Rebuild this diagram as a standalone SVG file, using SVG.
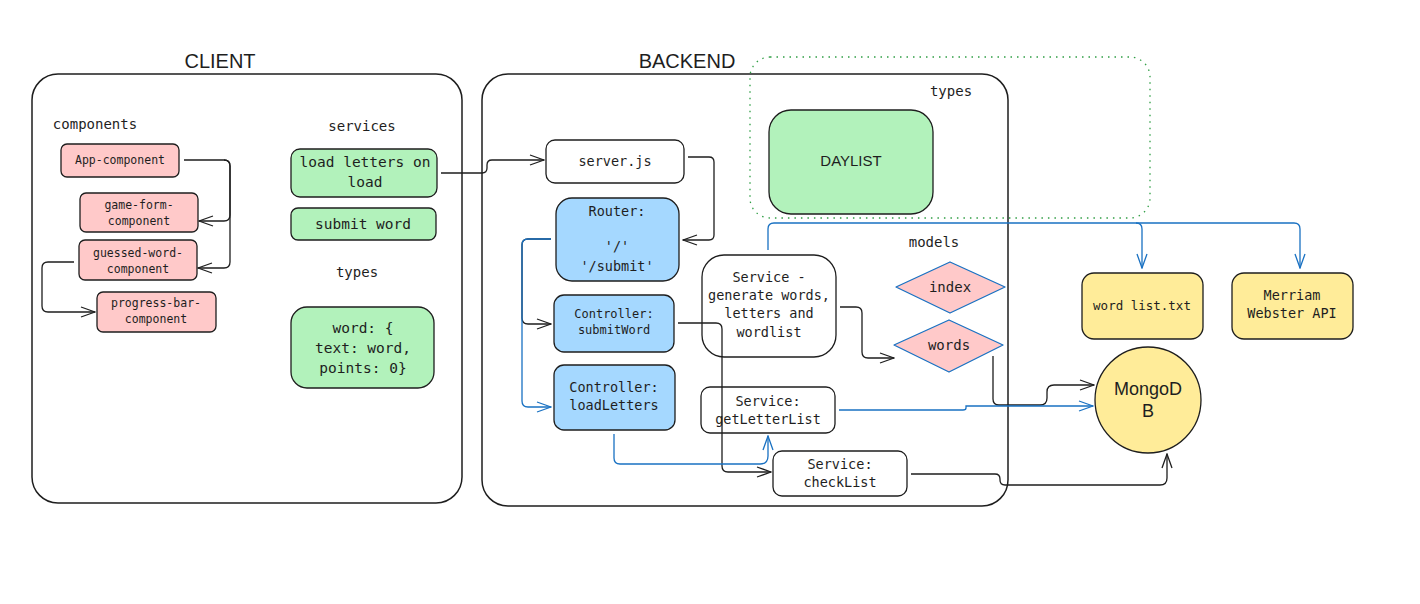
<svg xmlns="http://www.w3.org/2000/svg" width="1420" height="604" viewBox="0 0 1420 604">
<style>
.frame{fill:none;stroke:#1e1e1e;stroke-width:1.5}
.box{stroke:#1e1e1e;stroke-width:1.3}
.pink{fill:#ffc9c9}
.green{fill:#b2f2bb}
.blue{fill:#a5d8ff}
.white{fill:#ffffff}
.yellow{fill:#ffec99}
.t{font-family:"DejaVu Sans Mono","Liberation Mono",monospace;fill:#1e1e1e;text-anchor:middle}
.h{font-family:"Liberation Sans","DejaVu Sans",sans-serif;fill:#1e1e1e;text-anchor:middle}
.ck{fill:none;stroke:#1e1e1e;stroke-width:1.3;marker-end:url(#ak)}
.cb{fill:none;stroke:#1971c2;stroke-width:1.3;marker-end:url(#ab)}
</style>
<defs>
<marker id="ak" viewBox="0 0 16 12" refX="15" refY="6" markerWidth="16" markerHeight="12" markerUnits="userSpaceOnUse" orient="auto"><path d="M1,1 L15,6 L1,11" fill="none" stroke="#1e1e1e" stroke-width="1.3"/></marker>
<marker id="ab" viewBox="0 0 16 12" refX="15" refY="6" markerWidth="16" markerHeight="12" markerUnits="userSpaceOnUse" orient="auto"><path d="M1,1 L15,6 L1,11" fill="none" stroke="#1971c2" stroke-width="1.3"/></marker>
</defs>
<rect width="1420" height="604" fill="#ffffff"/>

<g id="client-frame">
<rect class="frame" x="32" y="74" width="430" height="429" rx="26"/>
<text class="h" x="220" y="68" font-size="20">CLIENT</text>
<text class="t" x="95" y="129" font-size="14">components</text>
<text class="t" x="362" y="131" font-size="14">services</text>
<text class="t" x="357" y="277" font-size="14">types</text>
</g>
<g id="backend-frame">
<rect class="frame" x="482" y="74" width="526" height="432" rx="26"/>
<text class="h" x="687" y="68" font-size="20">BACKEND</text>
<text class="t" x="934" y="247" font-size="14">models</text>
</g>
<g id="types-frame">
<rect x="750" y="57" width="400" height="161" rx="20" fill="none" stroke="#2f9e44" stroke-width="1.3" stroke-dasharray="1.5 5"/>
<text class="t" x="951" y="96" font-size="14">types</text>
</g>

<g id="app-component"><rect class="box pink" x="61" y="144" width="118" height="33" rx="6"/><text class="t" x="120" y="164" font-size="11.5">App-component</text></g>
<g id="game-form-component"><rect class="box pink" x="80" y="193" width="118" height="39" rx="6"/><text class="t" x="139" y="209" font-size="11.5">game-form-</text><text class="t" x="139" y="225" font-size="11.5">component</text></g>
<g id="guessed-word-component"><rect class="box pink" x="79" y="240" width="118" height="40" rx="6"/><text class="t" x="138" y="257" font-size="11.5">guessed-word-</text><text class="t" x="138" y="273" font-size="11.5">component</text></g>
<g id="progress-bar-component"><rect class="box pink" x="97" y="292" width="119" height="40" rx="6"/><text class="t" x="156" y="307" font-size="11.5">progress-bar-</text><text class="t" x="156" y="323" font-size="11.5">component</text></g>

<g id="load-letters"><rect class="box green" x="291" y="149" width="146" height="48" rx="9"/><text class="t" x="365" y="167" font-size="14.5">load letters on</text><text class="t" x="365" y="187" font-size="14.5">load</text></g>
<g id="submit-word"><rect class="box green" x="291" y="208" width="145" height="32" rx="7"/><text class="t" x="363" y="229" font-size="14.5">submit word</text></g>
<g id="word-type"><rect class="box green" x="291" y="307" width="143" height="81" rx="16"/><text class="t" x="363" y="333" font-size="14.5">word: {</text><text class="t" x="363" y="353" font-size="14.5">text: word,</text><text class="t" x="363" y="373" font-size="14.5">points: 0}</text></g>

<g id="daylist"><rect class="box green" x="769" y="110" width="164" height="104" rx="22"/><text class="h" x="851" y="166" font-size="15">DAYLIST</text></g>

<g id="server-js"><rect class="box white" x="546" y="140" width="138" height="43" rx="9"/><text class="t" x="615" y="166" font-size="13.5">server.js</text></g>
<g id="router"><rect class="box blue" x="556" y="198" width="123" height="83" rx="16"/><text class="t" x="617" y="216" font-size="13.5">Router:</text><text class="t" x="617" y="251" font-size="13.5">'/'</text><text class="t" x="617" y="271" font-size="13.5">'/submit'</text></g>
<g id="controller-submit"><rect class="box blue" x="554" y="295" width="120" height="57" rx="10"/><text class="t" x="614" y="318" font-size="12">Controller:</text><text class="t" x="614" y="334" font-size="12">submitWord</text></g>
<g id="controller-load"><rect class="box blue" x="554" y="365" width="121" height="65" rx="10"/><text class="t" x="614" y="392" font-size="13.5">Controller:</text><text class="t" x="614" y="410" font-size="13.5">loadLetters</text></g>
<g id="service-generate"><rect class="box white" x="702" y="255" width="134" height="102" rx="22"/><text class="t" x="769" y="282" font-size="13.5">Service -</text><text class="t" x="769" y="300" font-size="13.5">generate words,</text><text class="t" x="769" y="318" font-size="13.5">letters and</text><text class="t" x="769" y="337" font-size="13.5">wordlist</text></g>
<g id="service-getletterlist"><rect class="box white" x="701" y="387" width="134" height="46" rx="9"/><text class="t" x="768" y="406" font-size="13.5">Service:</text><text class="t" x="768" y="424" font-size="13.5">getLetterList</text></g>
<g id="service-checklist"><rect class="box white" x="773" y="451" width="134" height="45" rx="9"/><text class="t" x="840" y="469" font-size="13.5">Service:</text><text class="t" x="840" y="487" font-size="13.5">checkList</text></g>

<g id="model-index"><path d="M950,262 L1005,287 L950,313 L896,287 Z" fill="#ffc9c9" stroke="#1971c2" stroke-width="1.3" stroke-linejoin="round"/><text class="t" x="950" y="292" font-size="14">index</text></g>
<g id="model-words"><path d="M949,320 L1003,345 L949,372 L894,345 Z" fill="#ffc9c9" stroke="#1971c2" stroke-width="1.3" stroke-linejoin="round"/><text class="t" x="949" y="350" font-size="14">words</text></g>

<g id="word-list"><rect class="box yellow" x="1082" y="273" width="121" height="66" rx="12"/><text class="t" x="1142" y="310" font-size="12.5">word list.txt</text></g>
<g id="merriam"><rect class="box yellow" x="1232" y="273" width="121" height="66" rx="12"/><text class="t" x="1292" y="300" font-size="13.5">Merriam</text><text class="t" x="1292" y="318" font-size="13.5">Webster API</text></g>
<g id="mongodb"><circle class="box yellow" cx="1148" cy="400" r="53"/><text class="h" x="1148" y="395" font-size="18">MongoD</text><text class="h" x="1148" y="417" font-size="18">B</text></g>

<g id="connectors">
<path class="ck" d="M184,160 L224,160 Q230,160 230,166 L230,215 Q230,221 224,221 L199,221"/>
<path class="ck" d="M224,160 Q230,160 230,166 L230,262 Q230,268 224,268 L198,268"/>
<path class="ck" d="M74,262 L48,262 Q42,262 42,268 L42,306 Q42,312 48,312 L95,312"/>
<path class="ck" d="M441,173 L482,173 Q487,173 487,168 L487,165 Q487,160 492,160 L544,160"/>
<path class="ck" d="M688,157 L709,157 Q714,157 714,162 L714,235 Q714,240 709,240 L683,240"/>
<path class="ck" d="M551,239 L528,239 Q522,239 522,245 L522,318 Q522,324 528,324 L551,324"/>
<path class="cb" d="M551,239 L528,239 Q522,239 522,245 L522,401 Q522,407 528,407 L551,407"/>
<path class="ck" d="M678,323 L716,323 Q722,323 722,329 L722,466 Q722,472 728,472 L771,472"/>
<path class="cb" d="M614,434 L614,458 Q614,464 620,464 L760,464 Q768,464 768,456 L768,436"/>
<path class="ck" d="M840,307 L856,307 Q862,307 862,313 L862,352 Q862,358 868,358 L894,358"/>
<path class="cb" d="M768,250 L768,229 Q768,223 774,223 L1136,223 Q1142,223 1142,229 L1142,268"/>
<path class="cb" d="M1136,223 L1294,223 Q1300,223 1300,229 L1300,268"/>
<path class="ck" d="M993,356 L993,399 Q993,405 999,405 L1040,405 Q1047,405 1047,398 L1047,392 Q1047,385 1054,385 L1094,385"/>
<path class="cb" d="M839,410 L963,410 Q966,410 966,408 L966,406 L1093,406"/>
<path class="ck" d="M911,474 L995,474 Q1000,474 1000,479 L1000,480 Q1000,485 1005,485 L1160,485 Q1167,485 1167,478 L1167,454"/>
</g>
</svg>
